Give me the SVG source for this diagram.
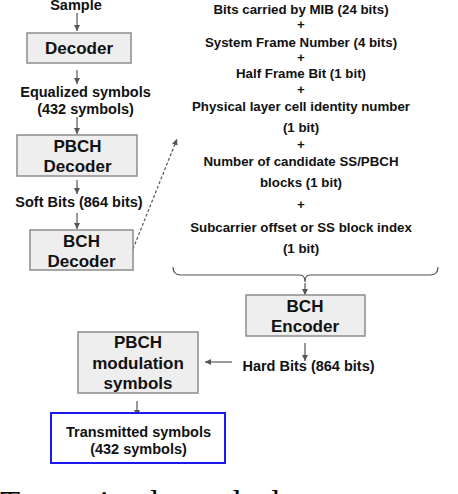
<svg xmlns="http://www.w3.org/2000/svg" width="458" height="494" viewBox="0 0 458 494">
<defs>
<marker id="ah" viewBox="0 0 10 10" refX="10" refY="5" markerWidth="6" markerHeight="6" markerUnits="userSpaceOnUse" orient="auto">
<path d="M0,0 L10,5 L0,10 z" fill="#555"/>
</marker>
<style>
.box{fill:#eeeeee;stroke:#8c8c8c;stroke-width:1.5}
.tbox{fill:#ffffff;stroke:#1a1aee;stroke-width:2}
.lbl{font-family:"Liberation Sans",Arial,sans-serif;font-weight:bold;font-size:14.5px;fill:#111;text-anchor:middle}
.big{font-family:"Liberation Sans",Arial,sans-serif;font-weight:bold;font-size:17px;fill:#111;text-anchor:middle}
.rt{font-family:"Liberation Sans",Arial,sans-serif;font-weight:bold;font-size:13.3px;fill:#111;text-anchor:middle}
.con{stroke:#555;stroke-width:1.2;fill:none}
.cap{font-family:"Liberation Serif","Times New Roman",serif;font-size:33px;fill:#000}
</style>
</defs>
<g id="connectors">
<line class="con" x1="77" y1="13" x2="77" y2="31" marker-end="url(#ah)"/>
<line class="con" x1="77" y1="70" x2="77" y2="84" marker-end="url(#ah)"/>
<line class="con" x1="77" y1="117" x2="77" y2="134" marker-end="url(#ah)"/>
<line class="con" x1="77" y1="180" x2="77" y2="194" marker-end="url(#ah)"/>
<line class="con" x1="77" y1="213" x2="77" y2="229" marker-end="url(#ah)"/>
<line class="con" x1="133" y1="249" x2="177" y2="139" stroke-dasharray="3,2" marker-end="url(#ah)"/>
<path class="con" d="M173,267 Q173,275 181,275 L300,275 Q305,275 305,282 Q305,275 310,275 L430,275 Q438,275 438,267"/>
<line class="con" x1="305" y1="283" x2="305" y2="295" marker-end="url(#ah)"/>
<line class="con" x1="305" y1="343" x2="305" y2="361" marker-end="url(#ah)"/>
<line class="con" x1="232" y1="362" x2="205" y2="362" marker-end="url(#ah)"/>
<line class="con" x1="137" y1="401" x2="137" y2="416" marker-end="url(#ah)"/>
</g>
<g id="sample"><text class="lbl" x="76" y="10">Sample</text></g>
<g id="decoder">
<rect class="box" x="27" y="33" width="104" height="30"/>
<text class="big" x="79" y="54">Decoder</text>
</g>
<g id="equalized">
<text class="lbl" x="85.5" y="97">Equalized symbols</text>
<text class="lbl" x="85.5" y="113.5">(432 symbols)</text>
</g>
<g id="pbch-decoder">
<rect class="box" x="17" y="135" width="120" height="41"/>
<text class="big" x="77.5" y="152">PBCH</text>
<text class="big" x="77.5" y="172">Decoder</text>
</g>
<g id="soft-bits"><text class="lbl" x="79" y="206.5">Soft Bits (864 bits)</text></g>
<g id="bch-decoder">
<rect class="box" x="30" y="230" width="103" height="40"/>
<text class="big" x="81.5" y="247">BCH</text>
<text class="big" x="81.5" y="267">Decoder</text>
</g>
<g id="bits-block">
<text class="rt" x="301" y="13.5">Bits carried by MIB (24 bits)</text>
<text class="rt" x="301" y="29">+</text>
<text class="rt" x="301" y="46.5">System Frame Number (4 bits)</text>
<text class="rt" x="301" y="62">+</text>
<text class="rt" x="301" y="77.5">Half Frame Bit (1 bit)</text>
<text class="rt" x="301" y="94">+</text>
<text class="rt" x="301" y="111">Physical layer cell identity number</text>
<text class="rt" x="301" y="131.5">(1 bit)</text>
<text class="rt" x="301" y="149">+</text>
<text class="rt" x="301" y="166">Number of candidate SS/PBCH</text>
<text class="rt" x="301" y="187">blocks (1 bit)</text>
<text class="rt" x="301" y="209">+</text>
<text class="rt" x="301" y="232">Subcarrier offset or SS block index</text>
<text class="rt" x="301" y="252.5">(1 bit)</text>
</g>
<g id="bch-encoder">
<rect class="box" x="246" y="295" width="119" height="41"/>
<text class="big" x="305" y="312">BCH</text>
<text class="big" x="305" y="332">Encoder</text>
</g>
<g id="hard-bits"><text class="lbl" x="308.5" y="371">Hard Bits (864 bits)</text></g>
<g id="pbch-mod">
<rect class="box" x="78" y="332" width="120" height="61"/>
<text class="big" x="138" y="348">PBCH</text>
<text class="big" x="138" y="369">modulation</text>
<text class="big" x="138" y="389">symbols</text>
</g>
<g id="transmitted">
<rect class="tbox" x="51" y="413" width="174" height="50"/>
<text class="lbl" x="138.5" y="436.5">Transmitted symbols</text>
<text class="lbl" x="138.5" y="453.5">(432 symbols)</text>
</g>
<text class="cap" y="514"><tspan x="0">Transmitted</tspan><tspan x="193">and</tspan><tspan x="263">data</tspan><tspan x="359">generation</tspan></text>
</svg>
